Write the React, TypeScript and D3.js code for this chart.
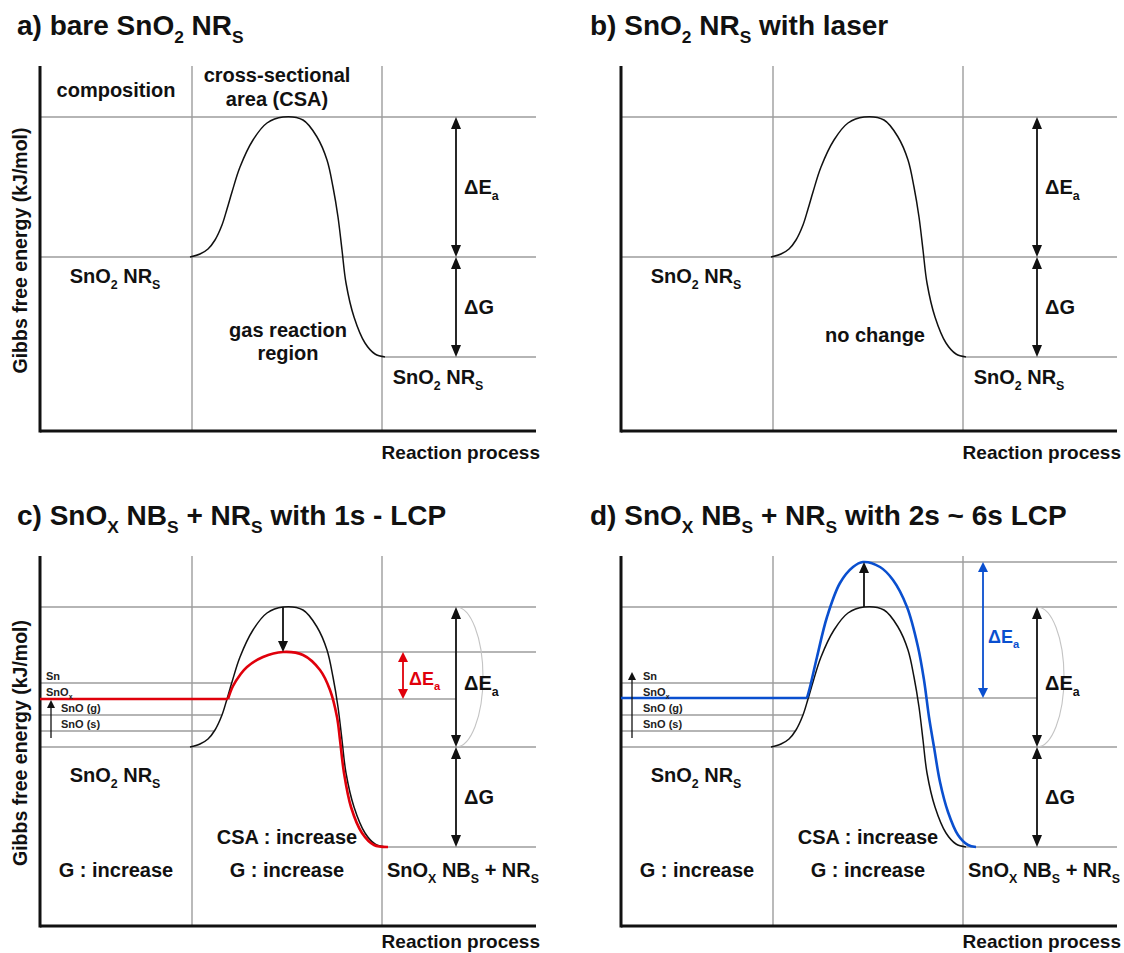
import React, { useEffect, useRef } from "react";
import * as d3 from "d3";

// energy levels (relative units, product level = 0)
const E_PRODUCT = 0;
const E_REACTANT = 100;
const E_PEAK = 240;
const E_RED_PEAK = 195;
const E_RED = 148;
const E_BLUE_PEAK = 285;
const E_BLUE = 149;

// intermediate states shown on the left of c) and d)
const stateLabels: [string, boolean][][] = [
  [["Sn", false]],
  [["SnO", false], ["x", true]],
  [["SnO (g)", false]],
  [["SnO (s)", false]],
];
const stateEnergy = [164, 148, 132, 116];
const stateLabelEnergy = [171, 155, 139, 123];

// reaction coordinate (0..496 along the process axis)
const PROCESS_MAX = 496;
const gridX = [152, 342];
const arrowX = 416;
const peakX = 243;

// barrier profiles [process, energy]
const blackCurve: [number, number][] = [
  [150, 100], [160, 103], [168, 108], [175, 117], [182, 132], [187, 148],
  [192, 165], [200, 190], [213, 217], [227, 234], [243, 240], [263, 237],
  [277, 220], [287, 197], [293, 170], [298, 140], [302, 107], [306, 74],
  [314, 40], [325, 14], [335, 3], [345, 0],
];
const redCurve: [number, number][] = [
  [188, 148], [193, 161], [200, 172], [207, 180], [223, 190], [243, 195],
  [263, 192], [280, 177], [290, 157], [297, 130], [300, 107], [304, 74],
  [311, 40], [322, 14], [334, 2], [348, 0],
];
const blueCurve: [number, number][] = [
  [186, 149], [189, 160], [196, 190], [206, 230], [219, 264], [232, 280],
  [242, 285], [259, 280], [272, 267], [286, 240], [297, 200], [303, 167],
  [308, 130], [313, 100], [319, 65], [327, 35], [337, 12], [347, 2], [355, 0],
];

const FONT = "'Liberation Sans', Arial, Helvetica, sans-serif";
const GRAY = "#9d9d9d";
const RED = "#e0000b";
const BLUE = "#0a4fcf";
const LABEL = 20;

function crossX(e: number) {
  // x where the rising side of the black barrier reaches energy e
  for (let i = 1; i < blackCurve.length; i++) {
    const [x0, e0] = blackCurve[i - 1];
    const [x1, e1] = blackCurve[i];
    if (e >= e0 && e <= e1) return x0 + ((e - e0) / (e1 - e0)) * (x1 - x0);
  }
  return 0;
}

function richText(g: any, x: number, y: number, parts: [string, boolean][], size: number, opts: any = {}) {
  const t = g
    .append("text")
    .attr("x", x)
    .attr("y", y + size * 0.35)
    .attr("font-size", size)
    .attr("font-family", FONT)
    .attr("font-weight", opts.weight ?? "bold")
    .attr("fill", opts.fill ?? "#111")
    .attr("text-anchor", opts.anchor ?? "start");
  if (opts.rotate) t.attr("transform", `rotate(-90, ${x}, ${y})`);
  const shift = size * 0.28;
  let down = false;
  parts.forEach(([s, sub]) => {
    const ts = t.append("tspan").text(s);
    if (sub) {
      ts.attr("font-size", size * 0.62);
      if (!down) {
        ts.attr("dy", shift);
        down = true;
      }
    } else if (down) {
      ts.attr("dy", -shift);
      down = false;
    }
  });
  return t;
}

function drawPanel(svg: any, kind: string, x0: number, y0: number, top: number, bottom: number, title: [string, boolean][], titleX: number, titleY: number) {
  const x = d3.scaleLinear().domain([0, PROCESS_MAX]).range([x0, x0 + PROCESS_MAX]);
  const y = d3.scaleLinear().domain([E_PRODUCT, E_PEAK]).range([y0, y0 - E_PEAK]);
  const g = svg.append("g");

  const hline = (e: number, a: number, b: number, color = GRAY, w = 1.4) =>
    g.append("line")
      .attr("x1", x(a)).attr("x2", x(b))
      .attr("y1", y(e)).attr("y2", y(e))
      .attr("stroke", color).attr("stroke-width", w);

  const arrow = (px: number, e1: number, e2: number, color: string, w: number, both: boolean, len = 12, half = 5) => {
    const X = x(px), Y1 = y(e1), Y2 = y(e2);
    const dir = Y2 > Y1 ? 1 : -1;
    g.append("line")
      .attr("x1", X).attr("x2", X)
      .attr("y1", both ? Y1 + dir * len * 0.6 : Y1)
      .attr("y2", Y2 - dir * len * 0.6)
      .attr("stroke", color).attr("stroke-width", w);
    const head = (ty: number, d: number) =>
      g.append("path")
        .attr("d", `M${X},${ty} L${X - half},${ty - d * len} L${X + half},${ty - d * len} Z`)
        .attr("fill", color);
    head(Y2, dir);
    if (both) head(Y1, -dir);
  };

  // grid
  gridX.forEach((vx) =>
    g.append("line")
      .attr("x1", x(vx)).attr("x2", x(vx))
      .attr("y1", top).attr("y2", bottom)
      .attr("stroke", GRAY).attr("stroke-width", 1.4)
  );
  hline(E_PEAK, 0, PROCESS_MAX);
  hline(E_REACTANT, 0, PROCESS_MAX);
  hline(E_PRODUCT, blackCurve[blackCurve.length - 1][0], PROCESS_MAX);

  if (kind === "c" || kind === "d") {
    hline(kind === "c" ? E_RED_PEAK : E_BLUE_PEAK, peakX, PROCESS_MAX);
    stateEnergy.forEach((e, i) => {
      if (i !== 1) hline(e, 0, crossX(e));
    });
    hline(kind === "c" ? E_RED : E_BLUE, 0, arrowX);
    // arc across the original barrier
    const yt = y(E_PEAK), yb = y(E_REACTANT);
    g.append("path")
      .attr("d", `M${x(arrowX)},${yt} A 27 ${(yb - yt) / 2} 0 0 1 ${x(arrowX)},${yb}`)
      .attr("fill", "none").attr("stroke", "#c4c4c4").attr("stroke-width", 1.1);
  }

  // axes
  g.append("line").attr("x1", x0).attr("x2", x0).attr("y1", top).attr("y2", bottom + 1.5)
    .attr("stroke", "#111").attr("stroke-width", 3);
  g.append("line").attr("x1", x0).attr("x2", x(PROCESS_MAX)).attr("y1", bottom).attr("y2", bottom)
    .attr("stroke", "#111").attr("stroke-width", 3);

  const line = d3.line<[number, number]>()
    .x((d) => x(d[0]))
    .y((d) => y(d[1]))
    .curve(d3.curveCatmullRom.alpha(0.5));

  g.append("path").attr("d", line(blackCurve)).attr("fill", "none")
    .attr("stroke", "#111").attr("stroke-width", 1.5);

  if (kind === "c") {
    hline(E_RED, 0, redCurve[0][0], RED, 2.6);
    g.append("path").attr("d", line(redCurve)).attr("fill", "none")
      .attr("stroke", RED).attr("stroke-width", 2.6);
    arrow(peakX, E_PEAK, E_RED_PEAK, "#111", 1.8, false, 11, 5);
    arrow(363, E_RED_PEAK, E_RED, RED, 1.8, true, 10, 5);
    richText(g, x(369), y(168), [["ΔE", false], ["a", true]], 18, { fill: RED });
    arrow(11, 109, 147, "#111", 1.3, false, 8, 4);
  }
  if (kind === "d") {
    hline(E_BLUE, 0, blueCurve[0][0], BLUE, 2.6);
    g.append("path").attr("d", line(blueCurve)).attr("fill", "none")
      .attr("stroke", BLUE).attr("stroke-width", 2.6);
    arrow(peakX, E_PEAK, E_BLUE_PEAK, "#111", 1.8, false, 11, 5);
    arrow(362, E_BLUE_PEAK, E_BLUE, BLUE, 1.8, true, 10, 5);
    richText(g, x(367), y(210), [["ΔE", false], ["a", true]], 18, { fill: BLUE });
    arrow(11, 109, 175, "#111", 1.3, false, 8, 4);
  }

  // ΔEa / ΔG arrows
  arrow(arrowX, E_PEAK, E_REACTANT, "#111", 1.8, true);
  arrow(arrowX, E_REACTANT, E_PRODUCT, "#111", 1.8, true);
  richText(g, x(424), y(kind === "a" || kind === "b" ? 170 : 164), [["ΔE", false], ["a", true]], 20);
  richText(g, x(424), y(50), [["ΔG", false]], 20);

  if (kind === "c" || kind === "d") {
    stateLabels.forEach((parts, i) => {
      const lx = kind === "d" ? 22 : i < 2 ? 6 : 21;
      richText(g, x(lx), y(stateLabelEnergy[i]), parts, 11, { weight: "bold", fill: "#222" });
    });
  }

  // title
  richText(g, titleX, titleY, title, 28);

  // x label
  richText(g, x(500), bottom + (kind === "a" || kind === "b" ? 21 : 15), [["Reaction process", false]], 19, { anchor: "end" });

  const sno2: [string, boolean][] = [["SnO", false], ["2", true], [" NR", false], ["S", true]];
  const mid = (a: number, b: number) => (x(a) + x(b)) / 2;

  if (kind === "a" || kind === "b") {
    richText(g, x(75), y(81), sno2, LABEL, { anchor: "middle" });
    richText(g, x(398), y(-20), sno2, LABEL, { anchor: "middle" });
  } else {
    richText(g, x(75), y(72), sno2, LABEL, { anchor: "middle" });
    richText(g, x(76), y(-23), [["G : increase", false]], LABEL, { anchor: "middle" });
    richText(g, mid(152, 342), y(10), [["CSA : increase", false]], LABEL, { anchor: "middle" });
    richText(g, mid(152, 342), y(-23), [["G : increase", false]], LABEL, { anchor: "middle" });
    richText(g, x(423), y(-23), [["SnO", false], ["X", true], [" NB", false], ["S", true], [" + NR", false], ["S", true]], LABEL, { anchor: "middle" });
  }

  if (kind === "a") {
    richText(g, x(76), y(267), [["composition", false]], LABEL, { anchor: "middle" });
    richText(g, x(237), y(282), [["cross-sectional", false]], LABEL, { anchor: "middle" });
    richText(g, x(237), y(258), [["area (CSA)", false]], LABEL, { anchor: "middle" });
    richText(g, x(248), y(27), [["gas reaction", false]], LABEL, { anchor: "middle" });
    richText(g, x(248), y(4), [["region", false]], LABEL, { anchor: "middle" });
  }
  if (kind === "b") {
    richText(g, x(254), y(22), [["no change", false]], LABEL, { anchor: "middle" });
  }
  if (kind === "a" || kind === "c") {
    richText(g, 20, (top + bottom) / 2 + 2, [["Gibbs free energy (kJ/mol)", false]], 19.5, { anchor: "middle", rotate: true });
  }
}

export default function App() {
  const ref = useRef<SVGSVGElement>(null);

  useEffect(() => {
    const svg = d3.select(ref.current);
    svg.selectAll("*").remove();
    svg.append("rect").attr("width", 1124).attr("height", 953).attr("fill", "#fff");

    drawPanel(svg, "a", 40, 357, 66, 431, [["a) bare SnO", false], ["2", true], [" NR", false], ["S", true]], 17, 25);
    drawPanel(svg, "b", 621, 357, 66, 431, [["b) SnO", false], ["2", true], [" NR", false], ["S", true], [" with laser", false]], 590, 25);
    drawPanel(svg, "c", 40, 847, 556, 926,
      [["c) SnO", false], ["X", true], [" NB", false], ["S", true], [" + NR", false], ["S", true], [" with 1s - LCP", false]], 17, 515);
    drawPanel(svg, "d", 621, 847, 556, 926,
      [["d) SnO", false], ["X", true], [" NB", false], ["S", true], [" + NR", false], ["S", true], [" with 2s ~ 6s LCP", false]], 590, 515);
  }, []);

  return (
    <svg
      ref={ref}
      width={1124}
      height={953}
      style={{ position: "absolute", left: 0, top: 0, display: "block" }}
    />
  );
}
